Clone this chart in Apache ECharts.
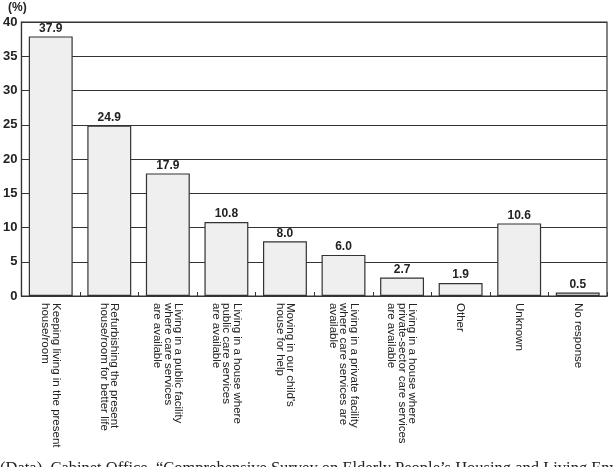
<!DOCTYPE html>
<html>
<head>
<meta charset="utf-8">
<script src="https://cdn.jsdelivr.net/npm/echarts@6/dist/echarts.min.js"></script>
<style>
  html, body { margin: 0; padding: 0; background: #fff; }
  #main { width: 615px; height: 467px; }
</style>
</head>
<body>
<div id="main"></div>
<script>
// 各選択肢のラベル（改行込み）
var categories = [
    'Keeping living in the present\nhouse/room',
    'Refurbishing the present\nhouse/room for better life',
    'Living in a public facility\nwhere care services\nare available',
    'Living in a house where\npublic care services\nare available',
    'Moving in our child\'s\nhouse for help',
    'Living in a private facility\nwhere care services are\navailable',
    'Living in a house where\nprivate-sector care services\nare available',
    'Other',
    'Unknown',
    'No response'
];
// 割合 (%)
var values = [37.9, 24.9, 17.9, 10.8, 8.0, 6.0, 2.7, 1.9, 10.6, 0.5];
var yTicks = [0, 5, 10, 15, 20, 25, 30, 35, 40];

var myChart = echarts.init(document.getElementById('main'));

var option = {
    animation: false,
    backgroundColor: '#fff',
    textStyle: {fontFamily: 'Liberation Sans, Arial, sans-serif'},
    grid: {
        left: 18, right: 8, top: 22, bottom: 171,
        show: true,
        borderColor: '#333',
        borderWidth: 1.2
    },
    graphic: [
        {
            type: 'text', left: 8, top: 2,
            style: {text: '(%)', fontSize: 12, fontWeight: 'bold', fill: '#222',
                    fontFamily: 'Liberation Sans, Arial, sans-serif'}
        },
        {
            // 出典（下端で切れている）
            type: 'text', left: 0, top: 460,
            style: {
                text: '(Data)  Cabinet Office, \u201cComprehensive Survey on Elderly People\u2019s Housing and Living Environment\u201d',
                fontSize: 16.5, fill: '#222',
                fontFamily: 'Liberation Serif, DejaVu Serif, serif'
            }
        }
    ],
    xAxis: {
        type: 'category',
        data: categories,
        axisLine: {lineStyle: {color: '#333', width: 1.2}},
        axisTick: {show: true, inside: true, length: 4, lineStyle: {color: '#333'}},
        axisLabel: {
            rotate: -90,
            interval: 0,
            margin: 7,
            fontSize: 11.5,
            lineHeight: 10.5,
            color: '#222'
        }
    },
    yAxis: {
        type: 'value',
        min: yTicks[0],
        max: yTicks[yTicks.length - 1],
        interval: 5,
        axisLine: {show: true, lineStyle: {color: '#333', width: 1.2}},
        axisTick: {show: false},
        axisLabel: {margin: 4, fontSize: 13, fontWeight: 'bold', color: '#222'},
        splitLine: {lineStyle: {color: '#333', width: 1.2}}
    },
    series: [
        {
            type: 'bar',
            data: values,
            barWidth: '75%',
            itemStyle: {color: '#efefef', borderColor: '#333', borderWidth: 1.2},
            label: {
                show: true,
                position: 'top',
                distance: 2,
                fontSize: 12,
                fontWeight: 'bold',
                color: '#222',
                formatter: function (p) { return p.value.toFixed(1); }
            }
        }
    ]
};

myChart.setOption(option);
</script>
</body>
</html>
